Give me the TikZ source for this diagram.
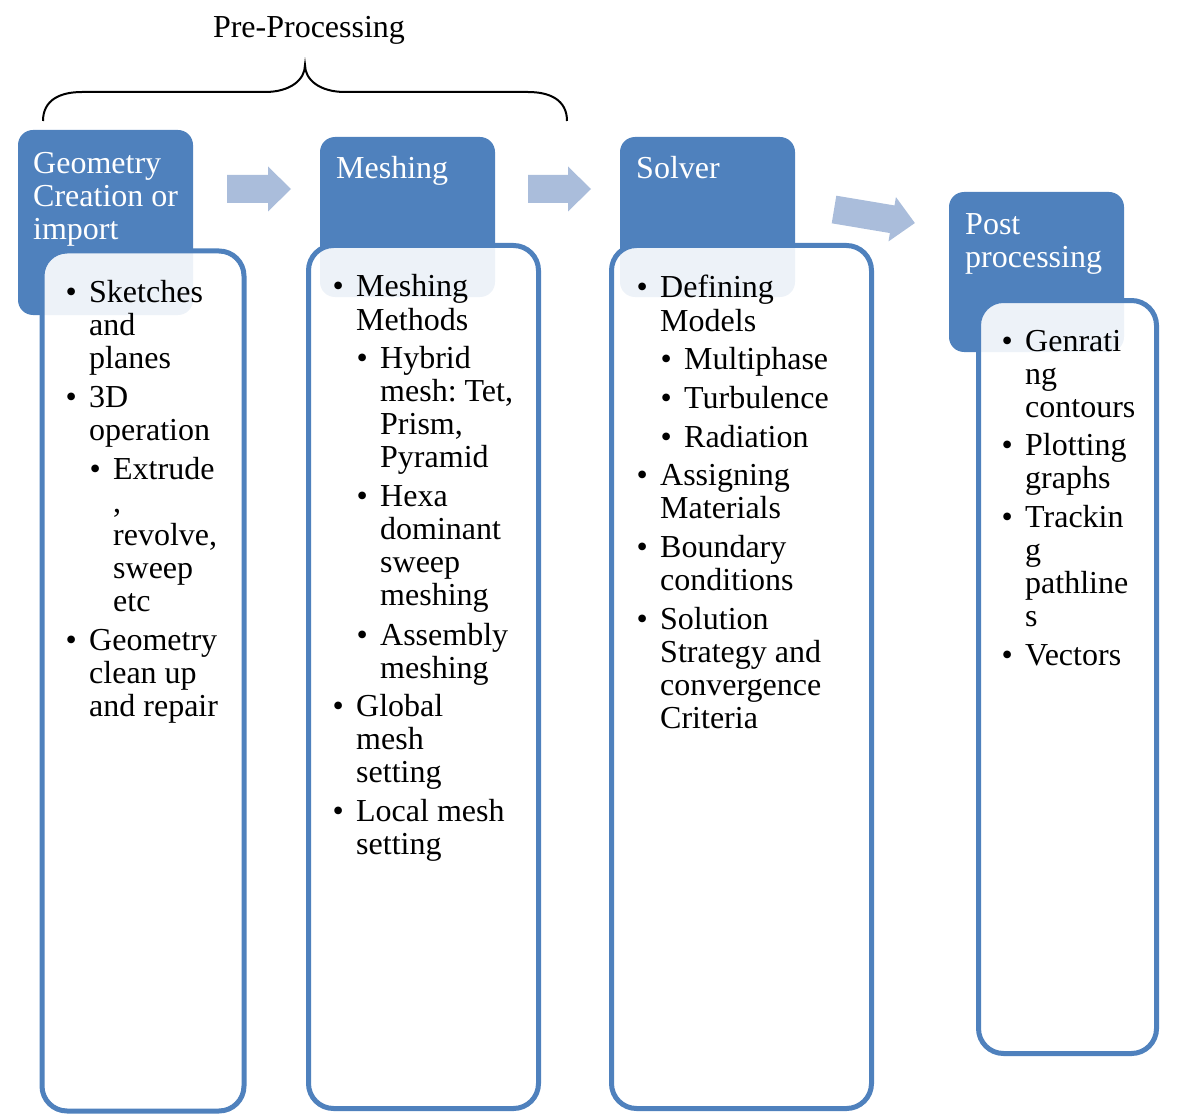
\documentclass[tikz,border=0pt]{standalone}
\usepackage{fontspec}
\setmainfont{Liberation Serif}
\frenchspacing
\definecolor{accent}{HTML}{4F81BD}
\definecolor{arrowblue}{HTML}{AABDDB}

% multi-line text block whose baseline is that of its first line
\newcommand{\stack}[1]{\begin{tabular}[t]{@{}l@{}}#1\end{tabular}}
% bulleted entry with a hanging indent
\newcommand{\bitem}[1]{\begin{tabular}[t]{@{}l@{}l@{}}\makebox[23.5pt][l]{\textbullet}&\stack{#1}\end{tabular}}
% block arrow: tail point, angle, length
\newcommand{\blockarrow}[3]{%
  \fill[arrowblue,shift={#1},rotate=#2]
    (0,-14) -- (#3-23,-14) -- (#3-23,-22.5) -- (#3,0) -- (#3-23,22.5) -- (#3-23,14) -- (0,14) -- cycle;}

\tikzset{
  header/.style={fill=accent, draw=none, rounded corners=15pt, anchor=north west, inner sep=0pt, outer sep=0pt, minimum width=175pt},
  panel/.style={fill=white, fill opacity=0.9, draw=accent, line width=5pt, rounded corners=25pt, anchor=north west, inner sep=0pt, outer sep=0pt},
  bodytext/.style={font=\fontsize{32}{33}\selectfont, inner sep=0pt, anchor=base west, text=black},
  headtext/.style={bodytext, text=white},
}

\begin{document}
\begin{tikzpicture}[x=1pt,y=-1pt]
\useasboundingbox (0,0) rectangle (1188,1115);

% overall label and brace over the first two stages
\node[bodytext, anchor=base] (pre) at (309,38) {Pre-Processing};
\draw[line width=2pt] (43,121) .. controls (43,100) and (60,92) .. (82,92) -- (265,92)
  .. controls (290,92) and (305,80) .. (305,65)
  .. controls (305,80) and (320,92) .. (345,92) -- (528,92)
  .. controls (550,92) and (567,100) .. (567,121);

% stage headers
\node[header, minimum height=185pt] (h1) at (18,130) {};
\node[header, minimum height=160pt] (h2) at (320,137) {};
\node[header, minimum height=160pt] (h3) at (620,137) {};
\node[header, minimum height=160pt] (h4) at (949,192) {};

\begin{scope}[yshift=-2pt]
\node[headtext] (ht1) at (33,172) {\stack{Geometry\\Creation or\\import}};
\node[headtext] (ht2) at (336,177) {Meshing};
\node[headtext] (ht3) at (636,177) {Solver};
\node[headtext] (ht4) at (965,233) {\stack{Post\\processing}};
\end{scope}

% detail panels
\node[panel, minimum width=202pt, minimum height=860pt] (p1) at (42,251) {};
\node[panel, minimum width=230pt, minimum height=863pt] (p2) at (308.5,245.5) {};
\node[panel, minimum width=260pt, minimum height=863pt] (p3) at (611.5,245.5) {};
\node[panel, minimum width=178pt, minimum height=753pt] (p4) at (978.5,300.5) {};

% arrows between stages
\coordinate (a1) at (227,189);
\coordinate (a2) at (528,189);
\coordinate (a3) at (834,209.5);
\blockarrow{(a1)}{0}{64}
\blockarrow{(a2)}{0}{63}
\blockarrow{(a3)}{-9.5}{82}

\begin{scope}[yshift=-2pt]
% geometry
\node[bodytext] (g1) at (65.5,300) {\bitem{Sketches\\and\\planes}};
\node[bodytext] (g2) at (65.5,405) {\bitem{3D\\operation}};
\node[bodytext] (g3) at (89.5,477) {\bitem{Extrude\\,\\revolve,\\sweep\\etc}};
\node[bodytext] (g4) at (65.5,648) {\bitem{Geometry\\clean up\\and repair}};

% meshing
\node[bodytext] (m1) at (332.5,295) {\bitem{Meshing\\Methods}};
\node[bodytext] (m2) at (356.5,366) {\bitem{Hybrid\\mesh: Tet,\\Prism,\\Pyramid}};
\node[bodytext] (m3) at (356.5,504) {\bitem{Hexa\\dominant\\sweep\\meshing}};
\node[bodytext] (m4) at (356.5,643) {\bitem{Assembly\\meshing}};
\node[bodytext] (m5) at (332.5,714) {\bitem{Global\\mesh\\setting}};
\node[bodytext] (m6) at (332.5,819) {\bitem{Local mesh\\setting}};

% solver
\node[bodytext] (s1) at (636.5,296) {\bitem{Defining\\Models}};
\node[bodytext] (s2) at (660.5,367) {\bitem{Multiphase}};
\node[bodytext] (s3) at (660.5,406) {\bitem{Turbulence}};
\node[bodytext] (s4) at (660.5,445) {\bitem{Radiation}};
\node[bodytext] (s5) at (636.5,483) {\bitem{Assigning\\Materials}};
\node[bodytext] (s6) at (636.5,555) {\bitem{Boundary\\conditions}};
\node[bodytext] (s7) at (636.5,627) {\bitem{Solution\\Strategy and\\convergence\\Criteria}};

% post processing
\node[bodytext] (q1) at (1001.5,349) {\bitem{Genrati\\ng\\contours}};
\node[bodytext] (q2) at (1001.5,453) {\bitem{Plotting\\graphs}};
\node[bodytext] (q3) at (1001.5,525) {\bitem{Trackin\\g\\pathline\\s}};
\node[bodytext] (q4) at (1001.5,663) {\bitem{Vectors}};
\end{scope}
\end{tikzpicture}
\end{document}
